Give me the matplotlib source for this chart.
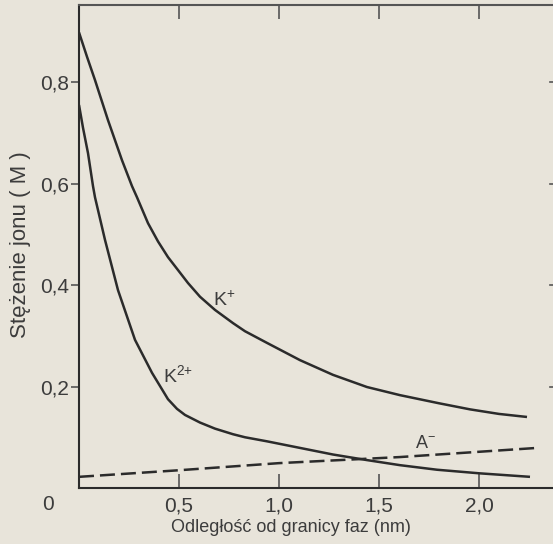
import matplotlib
matplotlib.use('Agg')
import matplotlib.pyplot as plt

# ---------------- data ----------------
k1_x = [0.0, 0.04, 0.08, 0.145, 0.215, 0.265, 0.29, 0.345, 0.395, 0.445, 0.5, 0.545, 0.605, 0.68,
        0.77, 0.83, 0.94, 1.105, 1.27, 1.44, 1.605, 1.8, 1.955, 2.1, 2.24]
k1_y = [0.898, 0.85, 0.804, 0.725, 0.646, 0.595, 0.573, 0.522, 0.486, 0.455, 0.427, 0.404, 0.377, 0.351,
        0.325, 0.309, 0.286, 0.252, 0.223, 0.199, 0.183, 0.167, 0.155, 0.146, 0.14]

k2_x = [0.0, 0.02, 0.045, 0.07, 0.08, 0.13, 0.195, 0.28, 0.365, 0.445, 0.49, 0.53, 0.57, 0.605,
        0.68, 0.77, 0.83, 0.94, 1.105, 1.27, 1.44, 1.605, 1.79, 2.0, 2.255]
k2_y = [0.755, 0.71, 0.66, 0.595, 0.573, 0.489, 0.39, 0.292, 0.227, 0.175, 0.156, 0.144, 0.136, 0.129,
        0.117, 0.106, 0.10, 0.092, 0.079, 0.066, 0.055, 0.045, 0.036, 0.029, 0.022]

a_x = [0.0, 0.5, 1.0, 1.455, 1.605, 2.29]
a_y = [0.022, 0.035, 0.049, 0.058, 0.061, 0.079]

x_ticks = [0.5, 1.0, 1.5, 2.0]
x_labels = ['0,5', '1,0', '1,5', '2,0']
y_ticks = [0.2, 0.4, 0.6, 0.8]
y_labels = ['0,2', '0,4', '0,6', '0,8']

bg = '#e8e4da'
ink = '#2b2b2b'
txt = '#3c3c3c'

plt.rcParams['font.family'] = ['Liberation Sans', 'DejaVu Sans']
plt.rcParams['mathtext.fontset'] = 'custom'
plt.rcParams['mathtext.rm'] = 'Liberation Sans'
plt.rcParams['mathtext.it'] = 'Liberation Sans'

fig = plt.figure(figsize=(5.53, 5.44), dpi=100, facecolor=bg)
ax = fig.add_axes([79 / 553, 56 / 544, 480 / 553, 483 / 544])
ax.set_facecolor(bg)

ax.plot(k1_x, k1_y, color=ink, lw=1.8, solid_capstyle='butt')
ax.plot(k2_x, k2_y, color=ink, lw=1.8, solid_capstyle='butt')
ax.plot(a_x, a_y, color=ink, lw=1.8, dashes=(6, 2.4))

ax.text(0.725, 0.37, r'K$^{{+}}$', fontsize=14, color=txt, ha='center', va='center')
ax.text(0.495, 0.222, r'K$^{2{+}}$', fontsize=14, color=txt, ha='center', va='center')
ax.text(1.73, 0.087, r'A$^{{-}}$', fontsize=13, color=txt, ha='center', va='center')

ax.set_xlim(0, 2.4)
ax.set_ylim(0, 0.952)

ax.set_xticks(x_ticks)
ax.set_xticklabels(x_labels)
ax.set_yticks(y_ticks)
ax.set_yticklabels(y_labels)

ax.tick_params(axis='x', direction='in', top=True, length=10, width=1.2,
               color='#555555', labelsize=15, labelcolor=txt, pad=6)
ax.tick_params(axis='y', direction='out', length=6, width=1.2,
               color='#555555', labelsize=15, labelcolor=txt, pad=1)

for side in ['left', 'bottom']:
    ax.spines[side].set_linewidth(1.5)
    ax.spines[side].set_color(ink)
ax.spines['top'].set_linewidth(1.5)
ax.spines['top'].set_color('#555555')
ax.spines['right'].set_visible(False)

# short inward marks on the (cropped) right side
for yt in y_ticks:
    ax.plot([2.355, 2.4], [yt, yt], color='#555555', lw=1.2, clip_on=False)

ax.text(-0.155, -0.033, '0', fontsize=15, color=txt, ha='center', va='center', clip_on=False)

fig.text(291 / 553, 1 - 528 / 544, 'Odległość od granicy faz (nm)', fontsize=13, color=txt,
         ha='center', va='center')
fig.text(21 / 553, 1 - 245 / 544, 'Stężenie jonu ( M )', fontsize=16, color=txt,
         rotation=90, ha='center', va='center')

fig.savefig('out.png', dpi=100, facecolor=bg)
